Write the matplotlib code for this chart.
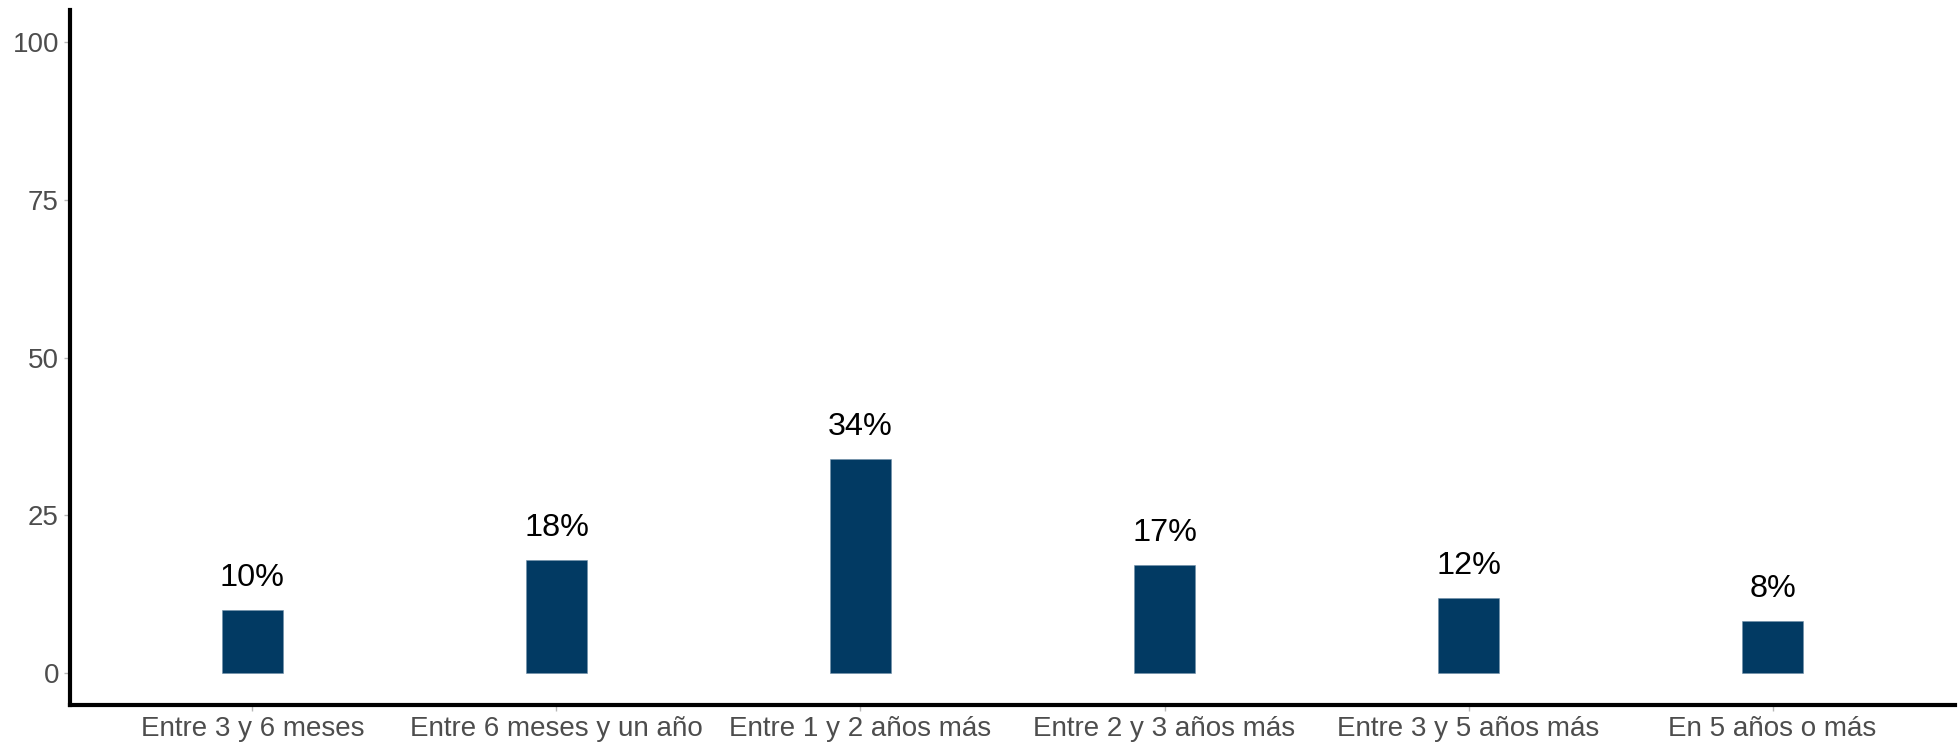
import numpy as np
import matplotlib.pyplot as plt

# Data
categories = ['Entre 3 y 6 meses', 'Entre 6 meses y un año', 'Entre 1 y 2 años más',
              'Entre 2 y 3 años más', 'Entre 3 y 5 años más', 'En 5 años o más']
values = [10.1, 18.0, 33.9, 17.1, 11.9, 8.3]
labels = ['10%', '18%', '34%', '17%', '12%', '8%']
yticks = [0, 25, 50, 75, 100]

plt.rcParams['font.family'] = ['Liberation Sans', 'DejaVu Sans']

fig = plt.figure(figsize=(19.6, 7.47), dpi=100, facecolor='white')
# axes box in pixels: left 70, right 1955, top 10, bottom 705
ax = fig.add_axes([70 / 1960, (747 - 705) / 747, (1955 - 70) / 1960, (705 - 10) / 747])

x = np.arange(len(categories))
ax.bar(x, values, width=0.2, color='#023a63', edgecolor='#6f8fa8', linewidth=0.4)

for xi, v, lab in zip(x, values, labels):
    ax.text(xi, v + 3.8, lab, ha='center', va='baseline', fontsize=23.3, color='black')

ax.set_xlim(-0.6, len(categories) - 1 + 0.6)
ax.set_ylim(-5, 105)
ax.set_xticks(x)
ax.set_xticklabels(categories)
ax.set_yticks(yticks)

ax.spines['top'].set_visible(False)
ax.spines['right'].set_visible(False)
for side in ['left', 'bottom']:
    ax.spines[side].set_linewidth(3)
    ax.spines[side].set_color('black')

ax.tick_params(axis='both', colors='#b8b8b8', labelcolor='#4d4d4d', labelsize=20,
               length=4, width=1, pad=4)

plt.savefig('out.png', dpi=100, facecolor=fig.get_facecolor())
